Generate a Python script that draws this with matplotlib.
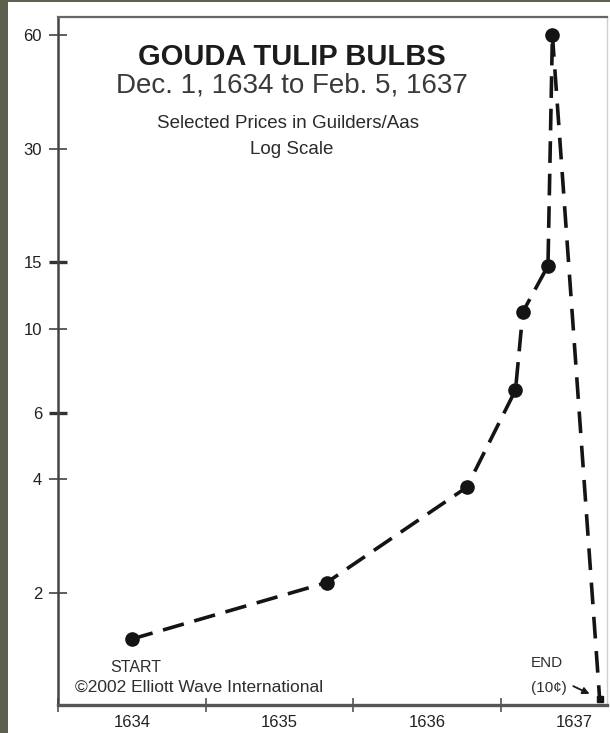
import matplotlib
matplotlib.use("Agg")
import matplotlib.pyplot as plt
from matplotlib.patches import Rectangle
from matplotlib.ticker import FixedLocator, NullLocator, NullFormatter, FixedFormatter

plt.rcParams['font.family'] = ['Liberation Sans', 'DejaVu Sans']

# ---- data (x in fractional years) ----
dates = [1634.50, 1635.82, 1636.77, 1637.10, 1637.15, 1637.32, 1637.35]
prices = [1.51, 2.13, 3.81, 6.89, 11.1, 14.7, 60.0]
end_date = 1637.67
end_price = 1.05

ytick_values = [2, 4, 6, 10, 15, 30, 60]
ytick_labels = ["2", "4", "6", "10", "15", "30", "60"]
year_bounds = [1634, 1635, 1636, 1637]
year_labels = ["1634", "1635", "1636", "1637"]

title = "GOUDA TULIP BULBS"
subtitle = "Dec. 1, 1634 to Feb. 5, 1637"
sub2 = "Selected Prices in Guilders/Aas"
sub3 = "Log Scale"
credit = "\u00a92002 Elliott Wave International"

W, H = 610, 733
fig = plt.figure(figsize=(W / 100, H / 100), dpi=100)
fig.patch.set_facecolor('#5c604e')
fig.patches.append(Rectangle((8 / W, 0), 1, 1 - 2 / H, transform=fig.transFigure,
                             facecolor='white', edgecolor='none', zorder=-10))

def fx(px):
    return px / W

def fy(py):
    return 1 - py / H

ax = fig.add_axes([fx(58), fy(705), fx(607) - fx(58), fy(17) - fy(705)])
ax.set_zorder(1)
ax.set_facecolor('white')
ax.set_yscale('log')
ax.set_ylim(1.01, 67)
ax.set_xlim(1634.0, 1637.72)

line_color = '#141414'
# rise
ax.plot(dates, prices, color=line_color, lw=2.6, dashes=(6, 3),
        marker='o', ms=9.5, mfc=line_color, mec=line_color, solid_capstyle='butt',
        zorder=3)
# collapse
ax.plot([dates[-1], end_date], [prices[-1], end_price], color=line_color, lw=2.6,
        dashes=(6, 3.5), zorder=3)
ax.plot([end_date], [end_price], marker='s', ms=4.5, color=line_color, zorder=4)

# y axis
ax.yaxis.set_major_locator(FixedLocator(ytick_values))
ax.yaxis.set_major_formatter(FixedFormatter(ytick_labels))
ax.yaxis.set_minor_locator(NullLocator())
ax.yaxis.set_minor_formatter(NullFormatter())
ax.tick_params(axis='y', which='major', direction='inout', length=13, width=1.1,
               color='#333333', labelsize=12, labelcolor='#222222', pad=5)
for t, v in zip(ax.yaxis.get_major_ticks(), ytick_values):
    if v in (15, 6):
        t.tick1line.set_markeredgewidth(2.4)
        t.tick1line.set_color('#1a1a1a')

# x axis: ticks at year boundaries, labels centred in each year
ax.xaxis.set_major_locator(FixedLocator(year_bounds))
ax.xaxis.set_major_formatter(NullFormatter())
ax.xaxis.set_minor_locator(FixedLocator([y + 0.5 for y in year_bounds]))
ax.xaxis.set_minor_formatter(FixedFormatter(year_labels))
ax.tick_params(axis='x', which='major', direction='inout', length=10, width=1.1,
               color='#444444')
ax.tick_params(axis='x', which='minor', length=0, labelsize=12,
               labelcolor='#222222', pad=7)

for side, (c, lw) in {'left': ('#444444', 1.8), 'bottom': ('#555555', 2.4),
                      'top': ('#666666', 1.6), 'right': ('#d0d0d0', 1.0)}.items():
    ax.spines[side].set_color(c)
    ax.spines[side].set_linewidth(lw)

# titles
fig.text(fx(292), fy(57), title, ha='center', va='center', fontsize=21,
         fontweight='bold', color='#1c1c1c', zorder=5)
fig.text(fx(292), fy(86), subtitle, ha='center', va='center', fontsize=20,
         color='#3a3a3a', zorder=5)
fig.text(fx(288), fy(123), sub2, ha='center', va='center', fontsize=13.5,
         color='#2a2a2a', zorder=5)
fig.text(fx(292), fy(150), sub3, ha='center', va='center', fontsize=13.5,
         color='#2a2a2a', zorder=5)

# annotations
ax.annotate("START", xy=(dates[0], prices[0]), xytext=(4, -28),
            textcoords='offset pixels', ha='center', va='center', fontsize=11.5,
            color='#2e2e2e')
ax.annotate("END", xy=(end_date, end_price), xytext=(-53, 36),
            textcoords='offset pixels', ha='center', va='center', fontsize=11,
            color='#2e2e2e')
ax.annotate("(10\u00a2)", xy=(end_date, end_price), xytext=(-51, 11),
            textcoords='offset pixels', ha='center', va='center', fontsize=11,
            color='#2e2e2e')
ax.annotate("", xy=(end_date, end_price), xytext=(-19, 9),
            textcoords='offset points',
            arrowprops=dict(arrowstyle='-|>', color='#1a1a1a', lw=1.3,
                            shrinkA=0, shrinkB=8, mutation_scale=10))
ax.text(fx(75), fy(687), credit, transform=fig.transFigure, ha='left',
        va='center', fontsize=12.5, color='#2e2e2e')

fig.savefig('out.png', dpi=100, facecolor=fig.get_facecolor())
